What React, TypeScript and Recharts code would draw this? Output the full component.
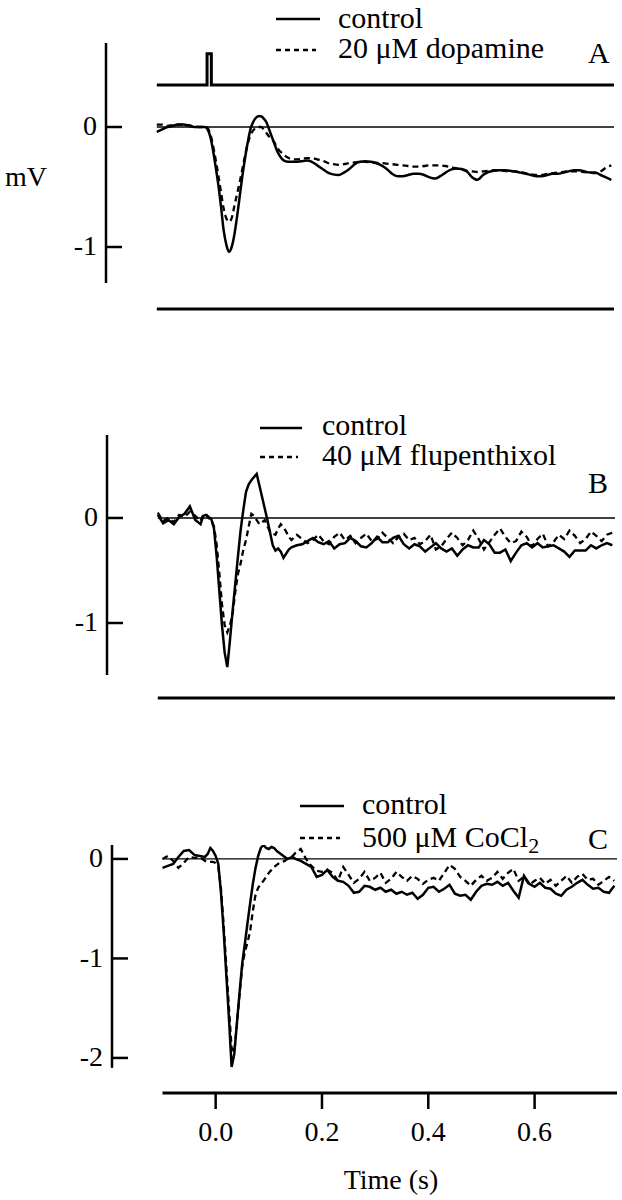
import React from 'react';
import { LineChart, Line, XAxis, YAxis, ReferenceLine, Legend } from 'recharts';

const FONT = '"Liberation Serif", "Tinos", "Times New Roman", "DejaVu Serif", serif';

// time grid (s)
const timeS = [
  -0.1, -0.09, -0.08, -0.07, -0.06, -0.05, -0.04, -0.03, -0.02,
  -0.015, -0.01, -0.005, 0, 0.005, 0.01, 0.015, 0.02, 0.025, 0.03, 0.035, 0.04, 0.045, 0.05, 0.055,
  0.06, 0.065, 0.07, 0.075, 0.08, 0.085, 0.09, 0.095, 0.1, 0.105, 0.11, 0.115, 0.12, 0.125, 0.13,
  0.135, 0.14, 0.145, 0.15,
  0.16, 0.17, 0.18, 0.19, 0.2, 0.21, 0.22, 0.23, 0.24, 0.25, 0.26, 0.27, 0.28, 0.29, 0.3, 0.31, 0.32,
  0.33, 0.34, 0.35, 0.36, 0.37, 0.38, 0.39, 0.4, 0.41, 0.42, 0.43, 0.44, 0.45, 0.46, 0.47, 0.48, 0.49,
  0.5, 0.51, 0.52, 0.53, 0.54, 0.55, 0.56, 0.57, 0.58, 0.59, 0.6, 0.61, 0.62, 0.63, 0.64, 0.65, 0.66,
  0.67, 0.68, 0.69, 0.7, 0.71, 0.72, 0.73, 0.74, 0.75,
];

// Panel A (mV)
const controlA = [
  -0.04, -0.02, 0.0, 0.01, 0.02, 0.02, 0.01, 0.0, 0.0,
  0.0, 0.0, -0.02, -0.08, -0.19, -0.33, -0.48, -0.66, -0.86, -0.98, -1.04, -1.0, -0.9, -0.75, -0.58,
  -0.41, -0.26, -0.13, -0.02, 0.04, 0.075, 0.09, 0.09, 0.07, 0.04, -0.02, -0.08, -0.14, -0.2, -0.24,
  -0.27, -0.285, -0.29, -0.29,
  -0.29, -0.285, -0.28, -0.29, -0.32, -0.35, -0.38, -0.395, -0.4, -0.38,
  -0.35, -0.31, -0.29, -0.285, -0.29, -0.3, -0.32, -0.35, -0.39, -0.41,
  -0.41, -0.4, -0.39, -0.39, -0.4, -0.42, -0.43, -0.41, -0.38, -0.355,
  -0.345, -0.35, -0.37, -0.42, -0.44, -0.4, -0.375, -0.365, -0.36, -0.36,
  -0.365, -0.37, -0.38, -0.39, -0.4, -0.41, -0.41, -0.4, -0.39, -0.39,
  -0.38, -0.37, -0.36, -0.36, -0.37, -0.38, -0.38, -0.4, -0.42, -0.44,
];
const dopamineA = [
  0.02, 0.02, 0.01, 0.015, 0.02, 0.02, 0.015, 0.005, 0.0,
  0.0, 0.0, -0.01, -0.06, -0.15, -0.27, -0.4, -0.54, -0.68, -0.76, -0.79, -0.76, -0.66, -0.56, -0.46,
  -0.35, -0.24, -0.14, -0.07, -0.03, -0.01, 0.0, 0.0, -0.02, -0.05, -0.08, -0.1, -0.13, -0.17, -0.2,
  -0.22, -0.24, -0.255, -0.265,
  -0.27, -0.265, -0.26, -0.26, -0.27, -0.28, -0.3, -0.31, -0.315, -0.31,
  -0.3, -0.295, -0.29, -0.29, -0.295, -0.3, -0.3, -0.305, -0.31, -0.315,
  -0.32, -0.325, -0.33, -0.33, -0.325, -0.32, -0.32, -0.32, -0.325, -0.335,
  -0.345, -0.355, -0.365, -0.37, -0.375, -0.37, -0.365, -0.36, -0.36, -0.365,
  -0.37, -0.37, -0.375, -0.385, -0.395, -0.4, -0.4, -0.39, -0.385, -0.38,
  -0.375, -0.37, -0.37, -0.37, -0.375, -0.38, -0.385, -0.37, -0.34, -0.32,
];

// stimulus marker of panel A
const stimTime = [-0.1, -0.006, -0.006, 0.002, 0.002, 0.755];
const stimLevel = [0, 0, 1, 1, 0, 0];

// Panel B (mV)
const controlB = [
  0.03, -0.05, -0.02, -0.06, 0.01, 0.04, 0.11, -0.02, -0.06,
  0.02, 0.03, 0.01, -0.01, -0.1, -0.36, -0.69, -1.02, -1.28, -1.42, -1.16, -0.88, -0.62, -0.36, -0.11,
  0.08, 0.25, 0.32, 0.36, 0.39, 0.42, 0.31, 0.2, 0.09, -0.02, -0.14, -0.26, -0.31, -0.29, -0.32,
  -0.38, -0.34, -0.3, -0.28,
  -0.26, -0.25, -0.22, -0.19, -0.23, -0.25, -0.22, -0.29,
  -0.25, -0.24, -0.19, -0.22, -0.27, -0.28, -0.24, -0.18, -0.23, -0.23,
  -0.19, -0.17, -0.25, -0.29, -0.25, -0.27, -0.32, -0.28, -0.24, -0.29,
  -0.32, -0.29, -0.36, -0.3, -0.26, -0.28, -0.28, -0.21, -0.25, -0.33,
  -0.33, -0.3, -0.41, -0.33, -0.26, -0.24, -0.28, -0.24, -0.28, -0.27,
  -0.26, -0.29, -0.32, -0.37, -0.31, -0.31, -0.31, -0.26, -0.29, -0.26,
  -0.24, -0.26,
];
const flupenthixolB = [
  0.05, -0.03, 0.0, -0.04, 0.03, 0.01, 0.06, 0.02, -0.03,
  0.03, 0.04, 0.0, -0.02, -0.08, -0.25, -0.52, -0.82, -1.02, -1.09, -1.02, -0.91, -0.7, -0.53, -0.43,
  -0.3, -0.21, -0.08, 0.04, 0.02, -0.02, -0.06, -0.04, -0.02, -0.08, -0.13, -0.15, -0.16, -0.1, -0.06,
  -0.09, -0.13, -0.18, -0.21,
  -0.16, -0.2, -0.24, -0.21, -0.16, -0.22, -0.25, -0.18, -0.14, -0.21,
  -0.17, -0.24, -0.19, -0.15, -0.22, -0.2, -0.14, -0.19, -0.24, -0.18,
  -0.15, -0.21, -0.19, -0.25, -0.22, -0.16, -0.3, -0.27, -0.2, -0.14,
  -0.19, -0.26, -0.21, -0.12, -0.2, -0.3, -0.23, -0.16, -0.1, -0.18,
  -0.24, -0.22, -0.13, -0.18, -0.27, -0.2, -0.15, -0.27, -0.23, -0.16,
  -0.2, -0.12, -0.17, -0.24, -0.2, -0.13, -0.17, -0.22, -0.16, -0.14,
];

// Panel C (mV)
const controlC = [
  -0.09, -0.07, -0.05, 0.02, 0.08, 0.09, 0.04, 0.03, 0.02,
  0.05, 0.11, 0.08, 0.03, -0.05, -0.34, -0.72, -1.16, -1.6, -2.09, -1.96, -1.65, -1.34, -1.05, -0.85,
  -0.64, -0.44, -0.25, -0.09, 0.03, 0.11, 0.14, 0.11, 0.1, 0.12, 0.11, 0.08, 0.06, 0.04, 0.02,
  0.0, 0.01, 0.02, 0.0,
  -0.02, -0.05, -0.08, -0.18, -0.16, -0.11, -0.18, -0.22,
  -0.23, -0.27, -0.34, -0.33, -0.27, -0.28, -0.31, -0.29, -0.33, -0.31,
  -0.35, -0.33, -0.36, -0.34, -0.4, -0.36, -0.29, -0.28, -0.33, -0.3,
  -0.26, -0.35, -0.37, -0.36, -0.41, -0.33, -0.27, -0.25, -0.26, -0.23,
  -0.27, -0.24, -0.32, -0.39, -0.17, -0.25, -0.28, -0.24, -0.29, -0.3,
  -0.35, -0.37, -0.31, -0.28, -0.24, -0.21, -0.26, -0.3, -0.29, -0.33,
  -0.34, -0.27,
];
const cobaltC = [
  0.0, 0.03, -0.02, -0.09, -0.04, 0.02, 0.01, 0.02, -0.02,
  -0.03, -0.03, -0.03, -0.04, -0.08, -0.3, -0.66, -1.08, -1.5, -1.9, -1.94, -1.66, -1.36, -1.08, -0.93,
  -0.84, -0.72, -0.52, -0.36, -0.29, -0.25, -0.22, -0.18, -0.14, -0.11, -0.08, -0.06, -0.04, -0.03, -0.02,
  0.0, 0.01, 0.03, 0.06,
  0.1, 0.0, -0.07, -0.12, -0.13, -0.11, -0.14, -0.22,
  -0.08, -0.16, -0.24, -0.2, -0.13, -0.22, -0.19, -0.14, -0.24, -0.2,
  -0.13, -0.18, -0.22, -0.17, -0.2, -0.25, -0.21, -0.19, -0.22, -0.14,
  -0.06, -0.1, -0.18, -0.22, -0.27, -0.21, -0.17, -0.22, -0.19, -0.13,
  -0.2, -0.14, -0.1, -0.22, -0.18, -0.26, -0.22, -0.19, -0.25, -0.21,
  -0.27, -0.22, -0.17, -0.24, -0.18, -0.15, -0.21, -0.2, -0.26, -0.22,
  -0.18, -0.22,
];

const xTicks = [0, 0.2, 0.4, 0.6];
const X_MIN = -0.195;
const X_MAX = 0.755;
const TRACE_START = -0.1;

const STIM_BASE = 0.35;
const STIM_HEIGHT = 0.26;

const rowsOf = (ctrl: number[], drug: number[]) =>
  timeS.map((t, i) => ({ t, ctrl: ctrl[i], drug: drug[i] }));

const stimRows = stimTime.map((t, i) => ({ t, s: STIM_BASE + STIM_HEIGHT * stimLevel[i] }));

const textStyle = { fontFamily: FONT };

const YTick = (props: any) => {
  const { x, y, payload } = props;
  return (
    <g>
      <line x1={x + 9} x2={x + 25} y1={y} y2={y} stroke="#000" strokeWidth={2.5} />
      <text x={x} y={y} dy="0.3em" textAnchor="end" style={textStyle} fontSize={28} fill="#000">
        {String(payload.value)}
      </text>
    </g>
  );
};

const XTick = (props: any) => {
  const { x, y, payload } = props;
  return (
    <text x={x} y={y} dy="0.71em" textAnchor="middle" style={textStyle} fontSize={28} fill="#000">
      {Number(payload.value).toFixed(1)}
    </text>
  );
};

type LegendProps = {
  lineLen: number;
  y1: number;
  y2: number;
  b1: number;
  b2: number;
  drugLabel: React.ReactNode;
};

const LegendBox = ({ lineLen, y1, y2, b1, b2, drugLabel }: LegendProps) => (
  <svg width={340} height={80} style={{ overflow: 'visible' }}>
    <line x1={6} x2={6 + lineLen} y1={y1} y2={y1} stroke="#000" strokeWidth={2.5} />
    <text x={68} y={b1} style={textStyle} fontSize={30} fill="#000">control</text>
    <line x1={6} x2={6 + lineLen - 4} y1={y2} y2={y2} stroke="#000" strokeWidth={2.5} strokeDasharray="5 4" />
    <text x={68} y={b2} style={textStyle} fontSize={30} fill="#000">{drugLabel}</text>
  </svg>
);

type PanelProps = {
  top: number;
  height: number;
  plotLeft: number;
  marginRight: number;
  marginTop: number;
  marginBottom: number;
  xAxisHeight: number;
  yDomain: [number, number];
  axisTop: number;
  axisBottom: number;
  yTicks: number[];
  rows: any[];
  curve: 'monotone' | 'linear';
  showXLabels: boolean;
  legendLeft: number;
  legendTop: number;
  legend: LegendProps;
  stim?: boolean;
};

const Panel = (p: PanelProps) => (
  <div style={{ position: 'absolute', left: 0, top: p.top, width: 622, height: p.height }}>
    <LineChart
      width={622}
      height={p.height}
      data={p.rows}
      margin={{ top: p.marginTop, right: p.marginRight, bottom: p.marginBottom, left: 0 }}
    >
      <XAxis
        dataKey="t"
        type="number"
        domain={[X_MIN, X_MAX]}
        allowDataOverflow
        ticks={xTicks}
        interval={0}
        axisLine={false}
        tickLine={{ stroke: '#000', strokeWidth: 2.5 }}
        tickSize={16}
        tickMargin={12}
        height={p.xAxisHeight}
        tick={p.showXLabels ? <XTick /> : false}
      />
      <YAxis
        type="number"
        domain={p.yDomain}
        allowDataOverflow
        ticks={p.yTicks}
        interval={0}
        width={p.plotLeft}
        axisLine={false}
        tickLine={false}
        tickSize={0}
        tickMargin={9}
        tick={<YTick />}
      />
      <ReferenceLine
        segment={[{ x: TRACE_START, y: 0 }, { x: X_MAX, y: 0 }]}
        stroke="#000"
        strokeWidth={1.3}
      />
      <ReferenceLine
        segment={[{ x: X_MIN, y: p.axisTop }, { x: X_MIN, y: p.axisBottom }]}
        stroke="#000"
        strokeWidth={2.5}
      />
      <ReferenceLine
        segment={[{ x: TRACE_START, y: p.yDomain[0] }, { x: X_MAX, y: p.yDomain[0] }]}
        stroke="#000"
        strokeWidth={3}
      />
      {p.stim && (
        <Line
          data={stimRows}
          dataKey="s"
          type="linear"
          stroke="#000"
          strokeWidth={3}
          dot={false}
          isAnimationActive={false}
        />
      )}
      <Line
        dataKey="drug"
        type={p.curve}
        stroke="#000"
        strokeWidth={2.3}
        strokeDasharray="6 4"
        dot={false}
        isAnimationActive={false}
      />
      <Line
        dataKey="ctrl"
        type={p.curve}
        stroke="#000"
        strokeWidth={2.5}
        dot={false}
        isAnimationActive={false}
      />
      <Legend
        layout="vertical"
        align="center"
        verticalAlign="middle"
        wrapperStyle={{ left: p.legendLeft, top: p.legendTop, width: 340, height: 80 }}
        content={() => <LegendBox {...p.legend} />}
      />
    </LineChart>
  </div>
);

export default function App() {
  return (
    <div style={{ position: 'absolute', left: 0, top: 0, width: 622, height: 1200, background: '#fff' }}>
      <Panel
        top={0}
        height={340}
        plotLeft={106}
        marginRight={8}
        marginTop={43}
        marginBottom={11}
        xAxisHeight={20}
        yDomain={[-1.5167, 0.7]}
        axisTop={0.7}
        axisBottom={-1.3}
        yTicks={[0, -1]}
        rows={rowsOf(controlA, dopamineA)}
        curve="monotone"
        showXLabels={false}
        legendLeft={270}
        legendTop={0}
        legend={{ lineLen: 44, y1: 19, y2: 50, b1: 28, b2: 58, drugLabel: '20 μM dopamine' }}
        stim
      />
      <Panel
        top={340}
        height={380}
        plotLeft={107}
        marginRight={7}
        marginTop={95}
        marginBottom={2}
        xAxisHeight={20}
        yDomain={[-1.714, 0.79]}
        axisTop={0.79}
        axisBottom={-1.495}
        yTicks={[0, -1]}
        rows={rowsOf(controlB, flupenthixolB)}
        curve="linear"
        showXLabels={false}
        legendLeft={254}
        legendTop={60}
        legend={{ lineLen: 42, y1: 28, y2: 57, b1: 35, b2: 65, drugLabel: '40 μM flupenthixol' }}
      />
      <Panel
        top={720}
        height={480}
        plotLeft={112}
        marginRight={5}
        marginTop={125}
        marginBottom={47}
        xAxisHeight={60}
        yDomain={[-2.3525, 0.14]}
        axisTop={0.14}
        axisBottom={-2.1}
        yTicks={[0, -1, -2]}
        rows={rowsOf(controlC, cobaltC)}
        curve="linear"
        showXLabels={true}
        legendLeft={294}
        legendTop={58}
        legend={{
          lineLen: 44,
          y1: 28,
          y2: 60,
          b1: 36,
          b2: 69,
          drugLabel: (
            <>
              500 μM CoCl<tspan dy={6} fontSize={22}>2</tspan>
            </>
          ),
        }}
      />
      <svg
        width={622}
        height={1200}
        style={{ position: 'absolute', left: 0, top: 0, pointerEvents: 'none' }}
      >
        <text x={5} y={186} style={textStyle} fontSize={28} fill="#000">mV</text>
        <text x={588} y={63} style={textStyle} fontSize={30} fill="#000">A</text>
        <text x={588} y={493} style={textStyle} fontSize={30} fill="#000">B</text>
        <text x={588} y={849} style={textStyle} fontSize={30} fill="#000">C</text>
        <text x={391} y={1189} textAnchor="middle" style={textStyle} fontSize={28} fill="#000">Time (s)</text>
      </svg>
    </div>
  );
}
